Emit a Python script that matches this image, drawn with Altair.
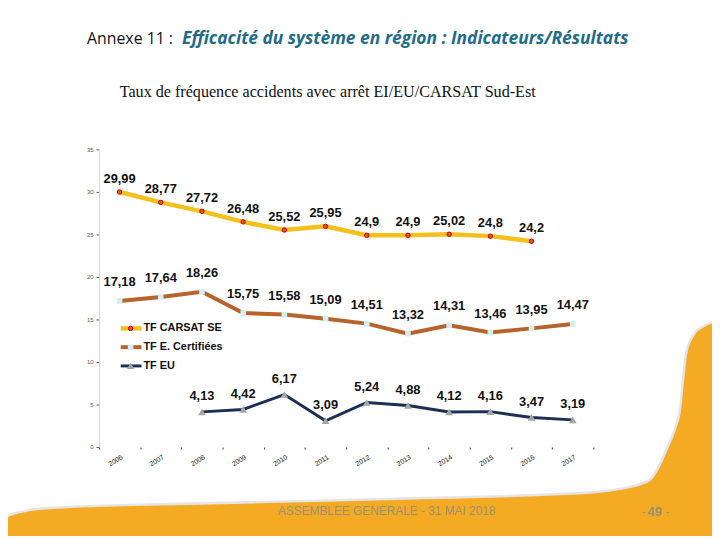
import altair as alt
import pandas as pd

# ---------------- data ----------------
years = [str(y) for y in range(2006, 2018)]
carsat_years = years[:11]
carsat_values = [29.99, 28.77, 27.72, 26.48, 25.52, 25.95, 24.9, 24.9, 25.02, 24.8, 24.2]
cert_years = years
cert_values = [17.18, 17.64, 18.26, 15.75, 15.58, 15.09, 14.51, 13.32, 14.31, 13.46, 13.95, 14.47]
eu_years = years[2:]
eu_values = [4.13, 4.42, 6.17, 3.09, 5.24, 4.88, 4.12, 4.16, 3.47, 3.19]
series_names = ["TF CARSAT SE", "TF E. Certifiées", "TF EU"]
y_ticks = [0, 5, 10, 15, 20, 25, 30, 35]

title_left = "Annexe 11 :"
title_right = "Efficacité du système en région : Indicateurs/Résultats"
subtitle = "Taux de fréquence accidents avec arrêt EI/EU/CARSAT Sud-Est"
footer = "ASSEMBLEE GENERALE - 31 MAI 2018"
page_no = "49"

# ---------------- styles ----------------
LINE_COLORS = ["#F4C01C", "#B7632B", "#1D2F55"]
LINE_WIDTHS = [4.5, 4, 3]
ORANGE = "#F4AB23"
FONT = "Liberation Sans"

W, H = 500, 301
PAD_L, PAD_T = 92, 140
PAD_R = 712 - PAD_L - W
PAD_B = 528 - PAD_T - H


def df_for(ys, vs, name):
    return pd.DataFrame({
        "year": ys,
        "value": vs,
        "series": name,
        "label": [str(v).replace(".", ",") for v in vs],
    })


xscale = alt.Scale(type="band", domain=years, paddingInner=0, paddingOuter=0)
yscale = alt.Scale(domain=[0, 35], nice=False)

x_axis = alt.Axis(
    title=None, domain=False, tickBand="extent", ticks=True, tickSize=2,
    tickColor="#333", labelAngle=-32, labelAlign="right", labelBaseline="top",
    labelFontSize=7, labelColor="#222", labelFont=FONT, labelPadding=4,
)
y_axis = alt.Axis(
    title=None, values=y_ticks, domain=True, domainColor="#d9d9d9",
    ticks=True, tickSize=3, tickColor="#555", labelFontSize=6,
    labelColor="#555", labelFont=FONT, labelPadding=3, grid=False,
)


def X():
    return alt.X("year:O", scale=xscale, bandPosition=0.5, axis=x_axis, sort=years)


def Y():
    return alt.Y("value:Q", scale=yscale, axis=y_axis)


def PX(field):
    return alt.X(field, type="quantitative", scale=None, axis=None)


def PY(field):
    return alt.Y(field, type="quantitative", scale=None, axis=None)


# ---------- background orange band (decoration, pixel coords) ----------
edge_page = [(-10, 527), (0, 524), (10, 519), (25, 515), (50, 512), (150, 508.5),
             (260, 506), (400, 502.5), (560, 498), (610, 495), (635, 491),
             (650, 487), (660, 481), (668, 468), (676, 450), (684, 430),
             (689, 410), (692, 380), (695, 355), (702, 337), (712, 328), (730, 322)]
edge = pd.DataFrame({
    "px": [p[0] - 100 for p in edge_page],
    "py": [p[1] - 148 for p in edge_page],
    "bottom": 420,
})
shadow = alt.Chart(edge).mark_line(color="#cccccc", strokeWidth=5, opacity=0.5,
                                   interpolate="monotone", clip=False).encode(
    x=PX("px"), y=PY("py"))
band = alt.Chart(edge).mark_area(color=ORANGE, interpolate="monotone", clip=False).encode(
    x=PX("px"), y=PY("py"), y2=alt.Y2("bottom:Q"))
back = alt.layer(shadow, band)

# ---------- series ----------
d_carsat = df_for(carsat_years, carsat_values, series_names[0])
d_cert = df_for(cert_years, cert_values, series_names[1])
d_eu = df_for(eu_years, eu_values, series_names[2])

data_layers = []
for d, col, sw in [(d_carsat, LINE_COLORS[0], LINE_WIDTHS[0]),
                   (d_cert, LINE_COLORS[1], LINE_WIDTHS[1]),
                   (d_eu, LINE_COLORS[2], LINE_WIDTHS[2])]:
    data_layers.append(alt.Chart(d).mark_line(color=col, strokeWidth=sw).encode(x=X(), y=Y()))

data_layers.append(alt.Chart(d_carsat).mark_point(
    shape="circle", filled=True, fill="#E2571E", stroke="#C00000",
    strokeWidth=1, size=20, opacity=1).encode(x=X(), y=Y()))
data_layers.append(alt.Chart(d_cert).mark_point(
    shape="square", filled=True, color="#D3EEF0", size=32, opacity=1).encode(x=X(), y=Y()))
data_layers.append(alt.Chart(d_eu).mark_point(
    shape="triangle-up", filled=True, color="#A5A5A5", size=60, opacity=1).encode(x=X(), y=Y()))

for d, dy in [(d_carsat, -13), (d_cert, -19), (d_eu, -16)]:
    data_layers.append(alt.Chart(d).mark_text(
        font=FONT, fontSize=13, fontWeight="bold", color="#111", dy=dy,
        baseline="middle").encode(x=X(), y=Y(), text="label:N"))

data = alt.layer(*data_layers)

# ---------- manual legend ----------
leg = pd.DataFrame({
    "name": series_names,
    "ly": [181, 200, 219],
})
leg_layers = []
for i, name in enumerate(series_names):
    sub = leg[leg["name"] == name]
    leg_layers.append(alt.Chart(sub).mark_rule(color=LINE_COLORS[i], strokeWidth=LINE_WIDTHS[i]).encode(
        x=alt.value(22), x2=alt.value(43), y=PY("ly")))
leg_pts = [
    dict(shape="circle", filled=True, fill="#E2571E", stroke="#C00000", strokeWidth=1, size=20),
    dict(shape="square", filled=True, color="#D3EEF0", size=32),
    dict(shape="triangle-up", filled=True, color="#A5A5A5", size=55),
]
for i, name in enumerate(series_names):
    sub = leg[leg["name"] == name]
    leg_layers.append(alt.Chart(sub).mark_point(opacity=1, **leg_pts[i]).encode(
        x=alt.value(32), y=PY("ly")))
leg_layers.append(alt.Chart(leg).mark_text(
    font=FONT, fontSize=11, fontWeight="bold", color="#111", align="left",
    baseline="middle").encode(x=alt.value(45), y=PY("ly"), text="name:N"))


# ---------- titles and footer ----------
def txt(s, x, y, **kw):
    return alt.Chart(pd.DataFrame({"t": [s]})).mark_text(baseline="middle", **kw).encode(
        x=alt.value(x), y=alt.value(y), text="t:N")


front = [
    txt(title_left, -12, -112, align="left", font="Open Sans", fontSize=16, color="#111"),
    txt(title_right, 84, -112, align="left", font="Open Sans", fontSize=17.6,
        fontWeight="bold", fontStyle="italic", color="#1E6B8A"),
    txt(subtitle, 21, -58, align="left", font="Liberation Serif", fontSize=16.3, color="#111"),
    txt(footer, 181, 366, align="left", font=FONT, fontSize=12, color="#9C8F74"),
    txt("-", 551, 367, align="center", font=FONT, fontSize=12, color="#9C8F74"),
    txt(page_no, 562, 367, align="center", font=FONT, fontSize=13,
        fontWeight="bold", color="#9C8F74"),
    txt("-", 575, 367, align="center", font=FONT, fontSize=12, color="#9C8F74"),
]

chart = alt.layer(back, data, *leg_layers, *front).resolve_scale(
    x="independent", y="independent"
).properties(
    width=W, height=H,
    padding={"left": PAD_L, "top": PAD_T, "right": PAD_R, "bottom": PAD_B},
    autosize=alt.AutoSizeParams(type="none"),
    background="white",
).configure_view(stroke=None)

chart.save("out.html", embed_options={"renderer": "svg", "actions": False})
